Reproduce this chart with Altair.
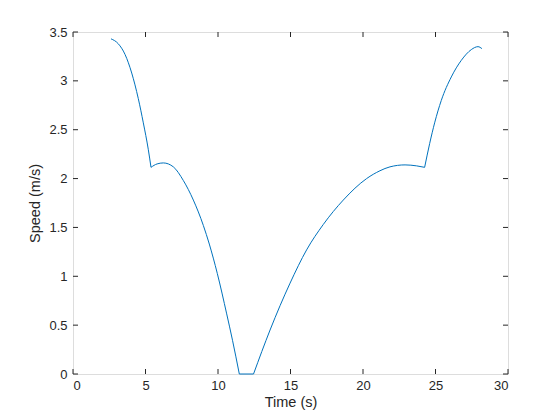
import altair as alt
import pandas as pd

# Speed profile, split at the cusps into smooth pieces
seg1_t = [2.62, 3.12, 3.59, 4.05, 4.50, 4.85, 5.19, 5.38]
seg1_v = [3.43, 3.38, 3.27, 3.08, 2.82, 2.57, 2.30, 2.115]
seg2_t = [5.38, 5.8, 6.23, 6.92, 7.61, 8.3, 8.99, 9.4, 9.95, 10.6, 11.0, 11.47]
seg2_v = [2.115, 2.15, 2.16, 2.12, 1.98, 1.78, 1.52, 1.33, 1.03, 0.615, 0.345, 0.0]
seg3_t = [11.47, 12.45]
seg3_v = [0.0, 0.0]
seg4_t = [12.45, 13.59, 14.97, 16.11, 17.26, 18.64, 20.25, 21.17, 21.86, 22.9, 23.7, 24.25]
seg4_v = [0.0, 0.45, 0.93, 1.27, 1.53, 1.78, 2.00, 2.08, 2.12, 2.14, 2.13, 2.115]
seg5_t = [24.25, 24.6, 24.94, 25.4, 26.09, 26.78, 27.47, 27.93, 28.2]
seg5_v = [2.115, 2.36, 2.57, 2.80, 3.04, 3.21, 3.32, 3.35, 3.33]

x_ticks = [0, 5, 10, 15, 20, 25, 30]
y_ticks = [0, 0.5, 1, 1.5, 2, 2.5, 3, 3.5]

W, H = 435, 342
AX = "#262626"
FONT = "Liberation Sans"

rows = []
for i, (ts, vs) in enumerate([(seg1_t, seg1_v), (seg2_t, seg2_v), (seg3_t, seg3_v),
                              (seg4_t, seg4_v), (seg5_t, seg5_v)]):
    for k, (t, v) in enumerate(zip(ts, vs)):
        rows.append({"t": t, "v": v, "seg": i, "k": k})
df = pd.DataFrame(rows)
xt = pd.DataFrame({"x": x_ticks})
yt = pd.DataFrame({"y": y_ticks})

xs = alt.Scale(domain=[0, 30], nice=False)
ys = alt.Scale(domain=[0, 3.5], nice=False)

line = alt.Chart(df).mark_line(color="#0072BD", strokeWidth=1, interpolate="monotone").encode(
    x=alt.X("t:Q", scale=xs, title="Time (s)",
            axis=alt.Axis(values=x_ticks, ticks=False, domain=False, grid=False,
                          labelExpr="datum.value", labelPadding=5, titlePadding=3,
                          labelFont=FONT, titleFont=FONT, labelFontSize=13, titleFontSize=14.5,
                          labelColor=AX, titleColor=AX, titleFontWeight="normal")),
    y=alt.Y("v:Q", scale=ys, title="Speed (m/s)",
            axis=alt.Axis(values=y_ticks, ticks=False, domain=False, grid=False,
                          labelExpr="datum.value", labelPadding=6, titlePadding=6,
                          labelFont=FONT, titleFont=FONT, labelFontSize=13, titleFontSize=14.5,
                          labelColor=AX, titleColor=AX, titleFontWeight="normal")),
    detail="seg:N",
    order="k:Q",
)

tl = 5
xb = alt.Chart(xt).mark_rule(color=AX, strokeWidth=1).encode(
    x=alt.X("x:Q", scale=xs), y=alt.value(H), y2=alt.value(H - tl))
xtop = alt.Chart(xt).mark_rule(color=AX, strokeWidth=1).encode(
    x=alt.X("x:Q", scale=xs), y=alt.value(0), y2=alt.value(tl))
yl = alt.Chart(yt).mark_rule(color=AX, strokeWidth=1).encode(
    y=alt.Y("y:Q", scale=ys), x=alt.value(0), x2=alt.value(tl))
yr = alt.Chart(yt).mark_rule(color=AX, strokeWidth=1).encode(
    y=alt.Y("y:Q", scale=ys), x=alt.value(W), x2=alt.value(W - tl))

chart = alt.layer(line, xb, xtop, yl, yr).properties(
    width=W, height=H,
    autosize=alt.AutoSizeParams(type="none"),
    padding={"left": 65, "top": 24, "right": 44, "bottom": 38},
).configure_view(stroke=AX, strokeWidth=1).configure(background="white")

chart.save("out.html", embed_options={"renderer": "svg", "actions": False})
